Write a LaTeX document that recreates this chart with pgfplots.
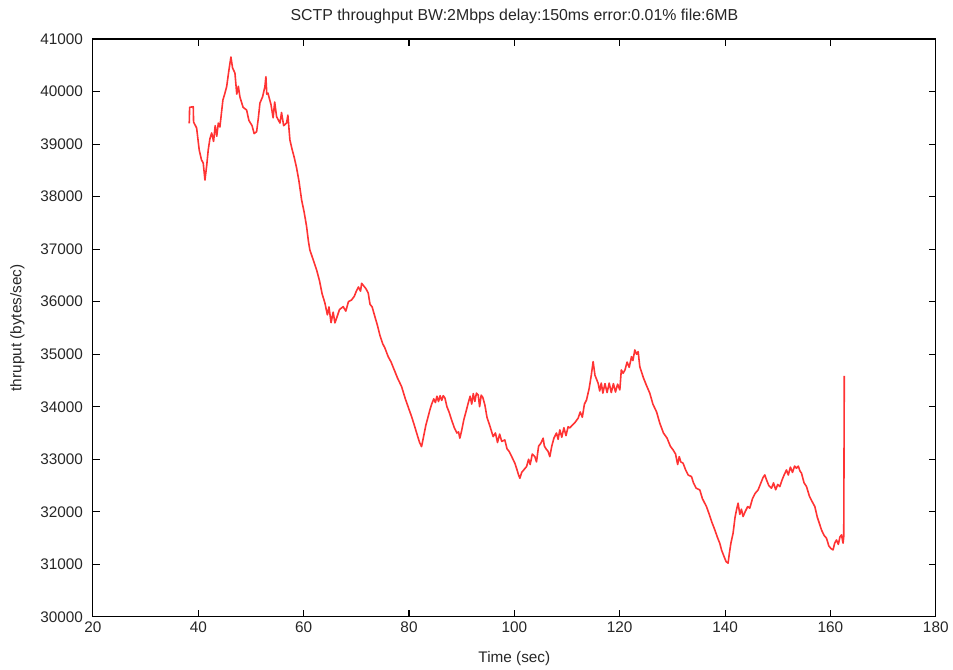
\documentclass[border=0pt]{standalone}
\usepackage{fontspec}
\setmainfont{Liberation Sans}
\usepackage{pgfplots}
\pgfplotsset{compat=1.18}

\begin{document}
\begin{tikzpicture}
\begin{axis}[
  scale only axis,
  width=632.25pt, height=433.5pt,
  xmin=20, xmax=180, ymin=30000, ymax=41000,
  xtick distance=20, ytick distance=1000,
  scaled y ticks=false,
  /pgf/number format/assume math mode=true,
  /pgf/number format/1000 sep={},
  tick align=inside,
  major tick length=5pt,
  tick style={black, line width=0.8pt},
  axis line style={black, line width=0.8pt},
  ticklabel style={font=\fontsize{11.5}{13}\selectfont, text=black!85},
  yticklabel style={xshift=-4pt},
  xlabel={Time (sec)},
  ylabel={thruput (bytes/sec)},
  xlabel shift=7pt,
  ylabel shift=5pt,
  label style={font=\fontsize{11.5}{13}\selectfont, text=black!85},
  title={SCTP throughput BW:2Mbps delay:150ms error:0.01\% file:6MB},
  title style={font=\fontsize{11.9}{13}\selectfont, text=black!85, yshift=2pt},
]
% throughput trace; the last sample jumps up at the end of the transfer
\addplot[red, line width=1.2pt, opacity=0.8, line join=round] coordinates {
(38.28,39395) (38.35,39700) (39.04,39711) (39.10,39420) (39.68,39306)
(40.17,38887) (40.6,38700) (40.93,38640) (41.26,38316) (41.6,38600)
(41.88,38887) (42.2,39100) (42.53,39211) (42.9,39050) (43.2,39350)
(43.5,39150) (43.8,39400) (44.10,39325) (44.4,39600) (44.67,39839)
(45.0,39950) (45.38,40092) (45.8,40400) (46.19,40657) (46.5,40450)
(46.95,40352) (47.3,39950) (47.6,40100) (47.90,39896) (48.5,39700)
(49.17,39648) (49.6,39450) (50.2,39350) (50.6,39200) (51.07,39235)
(51.4,39500) (51.70,39781) (52.2,39900) (52.64,40092) (52.83,40282)
(53.0,39950) (53.21,39972) (53.8,39750) (54.2,39500) (54.5,39800)
(54.86,39521) (55.5,39400) (55.8,39600) (56.2,39350) (56.76,39401)
(57.0,39550) (57.39,39077) (57.8,38900) (58.2,38750) (58.66,38544)
(59.1,38300) (59.61,37936) (60.1,37700) (60.56,37427) (60.9,37150)
(61.18,36984) (61.8,36800) (62.46,36603) (63.0,36400) (63.5,36150)
(64.03,35975) (64.5,35750) (64.8,35900) (65.2,35600) (65.6,35800)
(65.93,35595) (66.3,35700) (66.8,35850) (67.5,35905) (68.0,35820)
(68.5,36000) (69.1,36033) (69.6,36100) (70.0,36200) (70.4,36280)
(70.8,36200) (71.0,36350) (71.4,36300) (71.8,36250) (72.25,36166)
(72.6,35950) (73.0,35900) (73.52,35715) (74.0,35550) (74.5,35350)
(75.0,35200) (75.42,35119) (76.04,34954) (76.6,34850) (77.2,34700)
(77.8,34550) (78.59,34383) (79.3,34150) (80.0,33950) (80.49,33812)
(81.0,33650) (81.6,33450) (82.0,33320) (82.38,33241) (82.8,33450)
(83.2,33650) (83.6,33800) (83.96,33939) (84.3,34050) (84.7,34150)
(85.0,34080) (85.3,34200) (85.6,34100) (85.9,34210) (86.2,34120)
(86.5,34210) (86.81,34168) (87.2,34000) (87.6,33900) (88.08,33749)
(88.6,33600) (89.1,33500) (89.4,33520) (89.65,33401) (90.0,33550)
(90.4,33750) (90.8,33900) (91.23,34067) (91.6,34200) (91.9,34050)
(92.2,34250) (92.5,34100) (92.8,34260) (93.13,34225) (93.4,34000)
(93.7,34220) (94.0,34180) (94.40,34034) (94.8,33800) (95.3,33650)
(95.97,33431) (96.4,33500) (96.8,33320) (97.2,33480) (97.6,33340)
(98.19,33368) (98.6,33200) (99.0,33150) (99.5,33050) (100.09,32925)
(100.5,32800) (100.8,32700) (101.04,32639) (101.4,32750) (101.8,32800)
(102.31,32860) (102.7,33000) (103.0,32900) (103.4,33100) (103.89,33050)
(104.2,32950) (104.6,33250) (105.0,33300) (105.46,33401) (105.7,33250)
(106.0,33200) (106.4,33150) (106.73,33050) (107.1,33250) (107.5,33400)
(108.0,33500) (108.3,33380) (108.63,33559) (109.0,33420) (109.4,33600)
(109.8,33450) (110.2,33620) (110.53,33597) (111.0,33650) (111.5,33700)
(112.10,33781) (112.5,33900) (112.9,33800) (113.3,34050) (113.70,34130)
(114.2,34350) (114.6,34600) (114.95,34858) (115.3,34600) (115.90,34447)
(116.2,34300) (116.5,34450) (116.8,34260) (117.2,34440) (117.6,34270)
(118.0,34450) (118.4,34270) (118.8,34440) (119.2,34280) (119.6,34430)
(120.02,34320) (120.3,34700) (120.64,34638) (121.0,34700) (121.4,34850)
(121.8,34750) (122.24,34954) (122.5,34880) (122.87,35081) (123.2,35000)
(123.5,35050) (123.81,34763) (124.5,34550) (125.1,34400) (125.71,34257)
(126.3,34050) (127.0,33900) (127.61,33686) (128.3,33500) (129.0,33400)
(129.6,33250) (130.13,33178) (130.6,33100) (131.0,32900) (131.3,33050)
(131.6,32950) (132.03,32925) (132.5,32800) (133.0,32700) (133.63,32670)
(134.0,32550) (134.5,32450) (135.2,32417) (135.7,32250) (136.47,32099)
(137.0,31950) (137.5,31800) (138.05,31656) (138.6,31500) (139.0,31400)
(139.32,31275) (139.8,31150) (140.2,31050) (140.57,31022) (140.8,31200)
(141.1,31400) (141.52,31593) (141.9,31900) (142.2,32050) (142.47,32164)
(142.8,31950) (143.1,32050) (143.42,31909) (143.8,32000) (144.3,32100)
(144.69,32069) (145.2,32250) (145.7,32350) (146.27,32417) (146.8,32550)
(147.2,32650) (147.54,32702) (147.9,32600) (148.3,32500) (148.81,32449)
(149.2,32550) (149.6,32420) (150.0,32520) (150.39,32480) (150.8,32600)
(151.2,32700) (151.66,32797) (152.0,32700) (152.4,32850) (152.8,32750)
(153.2,32870) (153.56,32830) (153.9,32870) (154.2,32780) (154.51,32735)
(155.0,32550) (155.46,32480) (156.0,32300) (156.5,32200) (157.04,32099)
(157.5,31900) (158.0,31750) (158.30,31656) (158.8,31550) (159.25,31498)
(159.7,31350) (160.1,31300) (160.50,31275) (160.8,31400) (161.15,31465)
(161.5,31380) (161.8,31520) (162.10,31560) (162.40,31403) (162.53,31528)
(162.63,34586)
};
\coordinate (pagebl) at (rel axis cs:-0.1103,-0.0882);
\coordinate (pagetr) at (rel axis cs:1.0202,1.0675);
\end{axis}
\path (pagebl) rectangle (pagetr);
\end{tikzpicture}
\end{document}
